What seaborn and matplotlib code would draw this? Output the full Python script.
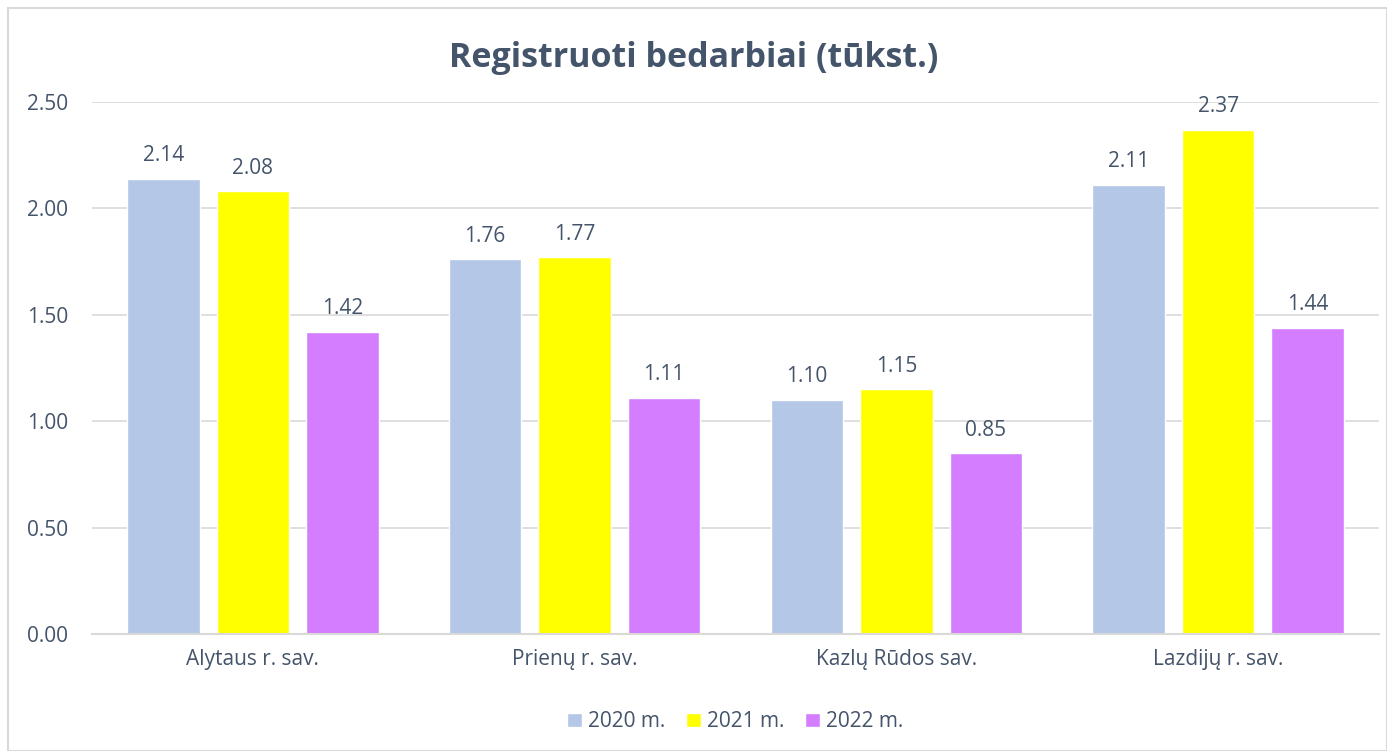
import matplotlib
matplotlib.use("Agg")
import matplotlib.pyplot as plt
import seaborn as sns
import pandas as pd
from matplotlib.patches import Rectangle

categories = ["Alytaus r. sav.", "Prienų r. sav.", "Kazlų Rūdos sav.", "Lazdijų r. sav."]
series_names = ["2020 m.", "2021 m.", "2022 m."]
v2020 = [2.14, 1.76, 1.10, 2.11]
v2021 = [2.08, 1.77, 1.15, 2.37]
v2022 = [1.42, 1.11, 0.85, 1.44]
yticks = [0.0, 0.5, 1.0, 1.5, 2.0, 2.5]
colors = ["#B4C7E7", "#FFFF00", "#D47DFF"]
title = "Registruoti bedarbiai (tūkst.)"

rows = []
for name, vals in zip(series_names, [v2020, v2021, v2022]):
    for c, v in zip(categories, vals):
        rows.append({"cat": c, "series": name, "value": v})
df = pd.DataFrame(rows)

sns.set_theme(style="white")
plt.rcParams["font.family"] = ["Open Sans", "DejaVu Sans"]
txt = "#44546A"
fs = 15

fig = plt.figure(figsize=(13.87, 7.51), dpi=100)
ax = fig.add_axes([92/1387, 1-634/751, (1379-92)/1387, (634-102)/751])

sns.barplot(data=df, x="cat", y="value", hue="series", palette=colors,
            width=0.835, gap=0.19, ax=ax, saturation=1, errorbar=None,
            order=categories, hue_order=series_names)

ax.set_ylim(0, 2.5)
ax.set_xlim(-0.5, 3.5)
ax.set_yticks(yticks)
ax.set_yticklabels([f"{t:.2f}" for t in yticks])
ax.yaxis.grid(True, color="#D9D9D9", linewidth=1.2)
ax.set_axisbelow(True)
for s in ["left", "right", "top"]:
    ax.spines[s].set_visible(False)
ax.spines["bottom"].set_color("#D9D9D9")
ax.spines["bottom"].set_linewidth(1.5)
ax.tick_params(axis="both", length=0, labelsize=fs, colors=txt)
ax.tick_params(axis="x", pad=11)
ax.set_xlabel("")
ax.set_ylabel("")
for lab in ax.get_yticklabels():
    lab.set_horizontalalignment("left")
ax.yaxis.set_tick_params(pad=(92-27)*0.72)

for cont in ax.containers:
    ax.bar_label(cont, fmt="%.2f", padding=9, fontsize=fs, color=txt)

leg = ax.legend(loc="upper center", bbox_to_anchor=(0.5, -0.11), ncol=3, frameon=False,
                fontsize=fs, handlelength=0.7, handleheight=0.7, handletextpad=0.3,
                columnspacing=1.0)
for t in leg.get_texts():
    t.set_color(txt)

fig.text(0.5, 1-58/751, title, ha="center", va="center", fontsize=24.5,
         fontweight="bold", color=txt)

fig.patches.append(Rectangle((8/1387, 0), 1 - 8/1387, 1 - 8/751, transform=fig.transFigure,
                             fill=False, edgecolor="#D9D9D9", linewidth=1.5, zorder=-1))

fig.savefig("out.png", dpi=100, facecolor="white")
